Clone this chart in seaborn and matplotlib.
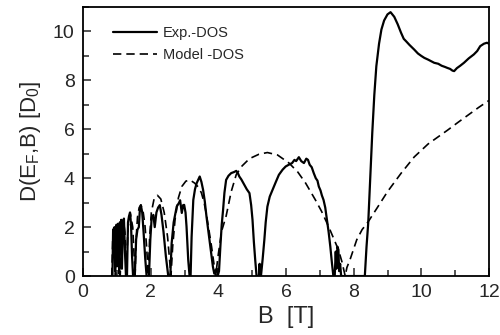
import numpy as np
import pandas as pd
import matplotlib
matplotlib.use("Agg")
import matplotlib.pyplot as plt
from matplotlib.ticker import MultipleLocator
import seaborn as sns

exp_b = [0.85, 0.87, 0.89, 0.91, 0.93, 0.95, 0.97, 0.99, 1.01, 1.03, 1.05, 1.07, 1.09, 1.11,
         1.13, 1.15, 1.17, 1.19, 1.21, 1.24, 1.27, 1.30, 1.33, 1.36, 1.39, 1.42, 1.45, 1.48,
         1.53, 1.57, 1.61, 1.65, 1.68, 1.71, 1.75, 1.79, 1.84, 1.88, 1.95, 1.99, 2.03, 2.08,
         2.12, 2.17, 2.22, 2.27, 2.32, 2.38, 2.45, 2.52, 2.58, 2.62, 2.68, 2.77, 2.84, 2.87,
         2.92, 2.96, 2.99, 3.03, 3.06, 3.11, 3.15, 3.18, 3.21, 3.26, 3.31, 3.36, 3.41, 3.45,
         3.50, 3.55, 3.60, 3.65, 3.70, 3.75, 3.80, 3.84, 3.88, 3.95, 3.98, 4.02, 4.06, 4.10,
         4.14, 4.18, 4.23, 4.30, 4.38, 4.46, 4.53, 4.58, 4.62, 4.68, 4.72, 4.77, 4.84, 4.92,
         4.97, 5.01, 5.05, 5.09, 5.13, 5.20, 5.22, 5.24, 5.26, 5.31, 5.36, 5.40, 5.45, 5.52,
         5.60, 5.70, 5.79, 5.90, 5.99, 6.08, 6.18, 6.25, 6.30, 6.38, 6.45, 6.53, 6.60, 6.65,
         6.70, 6.76, 6.82, 6.88, 6.93, 6.97, 7.02, 7.06, 7.11, 7.16, 7.21, 7.26, 7.31, 7.36,
         7.40, 7.44, 7.47, 7.49, 7.52, 7.55, 7.57, 7.60, 7.63, 8.33, 8.38, 8.43, 8.49, 8.55,
         8.61, 8.67, 8.75, 8.82, 8.90, 9.00, 9.09, 9.20, 9.30, 9.40, 9.48, 9.55, 9.65, 9.79,
         9.90, 10.00, 10.09, 10.20, 10.30, 10.38, 10.50, 10.60, 10.70, 10.77, 10.85, 10.92,
         10.97, 11.05, 11.15, 11.26, 11.40, 11.55, 11.65, 11.74, 11.85, 11.94, 12.00]
exp_d = [0, 0, 1.9, 0.8, 2.0, 0.2, 1.6, 2.1, 0.4, 2.0, 1.9, 0.1, 2.2, 1.0,
         2.3, 0.3, 1.5, 2.2, 2.35, 1.0, 0, 0, 2.2, 2.45, 2.6, 2.1, 0.8, 0,
         0, 1.5, 1.9, 2.0, 2.7, 2.9, 2.6, 1.8, 0.7, 0, 0, 1.5, 2.4, 2.5,
         2.0, 2.6, 2.8, 2.9, 2.5, 1.8, 0.8, 0, 0, 1.34, 2.2, 2.84, 3.0, 3.1,
         2.58, 2.9, 2.91, 2.6, 2.02, 0.66, 0, 0, 1.6, 3.11, 3.55, 3.8, 3.95, 4.07,
         3.85, 3.52, 3.05, 2.43, 1.9, 1.35, 0.8, 0.38, 0.1, 0.3, 0, 0.2, 1.2, 2.1,
         2.7, 3.4, 3.93, 4.1, 4.21, 4.25, 4.3, 4.2, 4.07, 3.95, 3.85, 3.73, 3.55, 3.39,
         2.9, 2.3, 1.4, 0.66, 0, 0, 0.5, 0, 0, 0.7, 1.48, 2.2, 2.84, 3.25,
         3.52, 3.85, 4.14, 4.35, 4.48, 4.55, 4.62, 4.75, 4.7, 4.86, 4.7, 4.62, 4.8, 4.75,
         4.55, 4.45, 4.21, 4.0, 3.9, 3.66, 3.5, 3.3, 3.11, 2.8, 2.3, 1.8, 1.2, 0.5,
         0, 0, 1.0, 0.3, 1.2, 1.07, 0.2, 0.5, 0, 0, 1.2, 2.16, 4.0, 5.86,
         7.4, 8.58, 9.5, 10.08, 10.45, 10.7, 10.79, 10.6, 10.3, 9.95, 9.7, 9.6, 9.45, 9.26,
         9.1, 9.0, 8.92, 8.85, 8.78, 8.72, 8.68, 8.6, 8.55, 8.51, 8.47, 8.4,
         8.38, 8.5, 8.6, 8.72, 8.9, 9.06, 9.2, 9.4, 9.5, 9.54, 9.5]

# model DOS
model_b = [0.85, 0.88, 0.91, 0.94, 0.96, 0.99, 1.03, 1.07, 1.10, 1.14, 1.19, 1.24, 1.28,
           1.33, 1.40, 1.47, 1.54, 1.57, 1.61, 1.66, 1.71, 1.77, 1.83, 1.88, 1.93, 1.97,
           2.02, 2.10, 2.20, 2.30, 2.40, 2.50, 2.60, 2.65, 2.72, 2.82, 2.92, 3.04, 3.16,
           3.30, 3.42, 3.50, 3.58, 3.65, 3.72, 3.80, 3.86, 3.92, 4.00, 4.10, 4.23, 4.38,
           4.53, 4.70, 4.92, 5.20, 5.45, 5.75, 6.09, 6.35, 6.58, 6.87, 7.05, 7.26, 7.42,
           7.55, 7.65, 7.75, 7.80, 7.89, 8.09, 8.25, 8.42, 8.70, 9.00, 9.40, 9.79, 10.20,
           10.77, 11.10, 11.40, 11.70, 12.00]
model_d = [0, 1.6, 2.0, 1.6, 0, 1.7, 2.15, 1.7, 0, 1.8, 2.3, 1.8, 0,
           2.0, 2.55, 2.0, 0, 1.5, 2.4, 2.8, 2.9, 2.7, 2.1, 1.2, 0, 1.6,
           2.6, 3.15, 3.3, 3.15, 2.6, 1.6, 0, 1.2, 2.3, 3.2, 3.66, 3.88, 3.93,
           3.8, 3.62, 3.4, 3.0, 2.5, 1.9, 1.2, 0.6, 0, 0.9, 1.85, 2.45, 3.45,
           4.15, 4.5, 4.8, 4.98, 5.05, 4.95, 4.62, 4.25, 3.8, 3.11, 2.65, 2.02, 1.5,
           1.07, 0.6, 0, 0.35, 0.66, 1.48, 1.9, 2.2, 2.8, 3.45, 4.2, 4.87, 5.4,
           5.96, 6.3, 6.6, 6.9, 7.18]

exp_df = pd.DataFrame({"B": exp_b, "D": exp_d})
model_df = pd.DataFrame({"B": model_b, "D": model_d})

sns.set_style("ticks")
plt.rcParams["font.family"] = ["Liberation Sans", "DejaVu Sans"]
plt.rcParams["mathtext.fontset"] = "custom"
plt.rcParams["mathtext.rm"] = "Liberation Sans"

fig = plt.figure(figsize=(5, 3.35), dpi=100)
ax = fig.add_axes([0.166, 0.176, 0.812, 0.803])

sns.lineplot(data=exp_df, x="B", y="D", ax=ax, color="black", lw=1.6,
             estimator=None, sort=False, label="Exp.-DOS")
sns.lineplot(data=model_df, x="B", y="D", ax=ax, color="black", lw=1.2,
             estimator=None, sort=False, linestyle=(0, (5, 3)), label="Model -DOS")

ax.set_xlim(0, 12)
ax.set_ylim(0, 11)
ax.xaxis.set_major_locator(MultipleLocator(2))
ax.xaxis.set_minor_locator(MultipleLocator(1))
ax.yaxis.set_major_locator(MultipleLocator(2))
ax.yaxis.set_minor_locator(MultipleLocator(1))
ax.tick_params(which="both", direction="in", top=False, right=False, width=1.1,
               labelsize=14, pad=6)
ax.tick_params(which="major", length=6)
ax.tick_params(which="minor", length=4)
for s in ax.spines.values():
    s.set_linewidth(1.3)
    s.set_color("black")

ax.set_xlabel("B  [T]", fontsize=17, labelpad=3)
ax.set_ylabel(r"D(E$_\mathregular{F}$,B) [D$_\mathregular{0}$]", fontsize=16, labelpad=7)

ax.legend(loc="upper left", bbox_to_anchor=(0.075, 0.93), frameon=False,
          fontsize=10.5, handlelength=3.0, handletextpad=0.4, labelspacing=0.55,
          borderaxespad=0, borderpad=0)

fig.savefig("out.png", dpi=100)
